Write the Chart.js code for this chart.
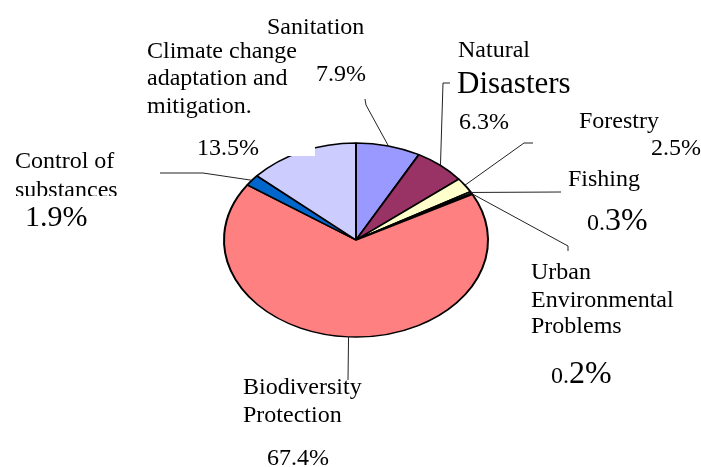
<!DOCTYPE html>
<html>
<head>
<meta charset="utf-8">
<script src="https://cdn.jsdelivr.net/npm/chart.js@4.4.1/dist/chart.umd.min.js"></script>
<style>
  html, body { margin: 0; padding: 0; background: #ffffff; }
  #wrap { width: 701px; height: 467px; position: relative; }
  canvas { display: block; }
</style>
</head>
<body>
<div id="wrap"><canvas id="pie" width="701" height="467"></canvas></div>
<script>
// Share of environmental spending by area (per cent), clockwise from the top
const categories = [
  ['Sanitation'],
  ['Natural', 'Disasters'],
  ['Forestry'],
  ['Fishing'],
  ['Urban', 'Environmental', 'Problems'],
  ['Biodiversity', 'Protection'],
  ['Control of', 'substances'],
  ['Climate change', 'adaptation and', 'mitigation.']
];
const shares = [7.9, 6.3, 2.5, 0.3, 0.2, 67.4, 1.9, 13.5];
const sliceColors = ['#9999FF', '#993366', '#FFFFCC', '#CCFFFF', '#660066', '#FF8080', '#0066CC', '#CCCCFF'];

const FONT = '"Liberation Serif", serif';
const BASE = 24;
const TILT = 0.735; // vertical squash of the pie

// Where each slice's label lines, percentage and leader line go
const labelLayout = [
  { lines: [[267, 34]], pct: { x: 316, y: 81 }, leader: [[366, 105], [365, 99]] },
  { lines: [[458, 57], [457, 93, 31]], pct: { x: 459, y: 129 }, leader: [[443, 83], [450, 83]] },
  { lines: [[579, 128]], pct: { x: 651, y: 155 }, leader: [[524, 143], [533, 143]] },
  { lines: [[568, 186]], pct: { x: 587, y: 230, split: 32 }, leader: [[561, 192]] },
  { lines: [[531, 279], [531, 307], [531, 333]], pct: { x: 551, y: 383, split: 32 }, leader: [[568, 246], [568, 251]] },
  { lines: [[243, 394], [243, 422]], pct: { x: 267, y: 465 }, leader: [[348, 380]] },
  { lines: [[15, 168], [15, 197]], clipBottom: 196, pct: { x: 25, y: 226, size: 30 }, leader: [[203, 173], [160, 173]] },
  { lines: [[147, 58], [147, 85], [147, 113]], pct: { x: 197, y: 155 }, mask: [185, 130, 315, 156], leader: null }
];

// Squash the pie vertically so it reads as a tilted disc
const tiltPlugin = {
  id: 'tilt',
  beforeDatasetsDraw(chart) {
    const arc = chart.getDatasetMeta(0).data[0];
    const ctx = chart.ctx;
    ctx.save();
    ctx.translate(arc.x, arc.y);
    ctx.scale(1, TILT);
    ctx.translate(-arc.x, -arc.y);
  },
  afterDatasetsDraw(chart) {
    chart.ctx.restore();
  }
};

// Category names, percentages and leader lines
const labelPlugin = {
  id: 'sliceLabels',
  afterDatasetsDraw(chart) {
    const ctx = chart.ctx;
    const arcs = chart.getDatasetMeta(0).data;
    ctx.save();
    ctx.textBaseline = 'alphabetic';
    ctx.textAlign = 'left';
    ctx.fillStyle = '#000000';
    arcs.forEach((arc, i) => {
      const lay = labelLayout[i];
      // leader line from the middle of the slice's rim
      if (lay.leader) {
        const mid = (arc.startAngle + arc.endAngle) / 2;
        const ex = arc.x + arc.outerRadius * Math.cos(mid);
        const ey = arc.y + arc.outerRadius * TILT * Math.sin(mid);
        ctx.beginPath();
        ctx.moveTo(ex, ey);
        lay.leader.forEach(p => ctx.lineTo(p[0], p[1]));
        ctx.strokeStyle = '#222222';
        ctx.lineWidth = 1;
        ctx.stroke();
      }
      if (lay.mask) {
        ctx.fillStyle = '#ffffff';
        ctx.fillRect(lay.mask[0], lay.mask[1], lay.mask[2] - lay.mask[0], lay.mask[3] - lay.mask[1]);
        ctx.fillStyle = '#000000';
      }
      // name lines
      ctx.save();
      if (lay.clipBottom) {
        ctx.beginPath();
        ctx.rect(0, 0, chart.width, lay.clipBottom);
        ctx.clip();
      }
      categories[i].forEach((txt, k) => {
        const [x, y, size] = lay.lines[k];
        ctx.font = (size || BASE) + 'px ' + FONT;
        ctx.fillText(txt, x, y);
      });
      ctx.restore();
      // percentage
      const pctText = shares[i].toFixed(1) + '%';
      const p = lay.pct;
      if (p.split) {
        const head = pctText.slice(0, 2);
        const tail = pctText.slice(2);
        ctx.font = BASE + 'px ' + FONT;
        ctx.fillText(head, p.x, p.y);
        const w = ctx.measureText(head).width;
        ctx.font = p.split + 'px ' + FONT;
        ctx.fillText(tail, p.x + w, p.y);
      } else {
        ctx.font = (p.size || BASE) + 'px ' + FONT;
        ctx.fillText(pctText, p.x, p.y);
      }
    });
    ctx.restore();
  }
};

function drawChart() {
  new Chart(document.getElementById('pie'), {
    type: 'pie',
    data: {
      labels: categories.map(l => l.join(' ')),
      datasets: [{
        data: shares,
        backgroundColor: sliceColors,
        borderColor: '#000000',
        borderWidth: 2,
        radius: 132
      }]
    },
    options: {
      responsive: false,
      devicePixelRatio: 1,
      animation: false,
      events: [],
      layout: { padding: { left: 224, right: 213, top: 108, bottom: 95 } },
      plugins: {
        legend: { display: false },
        tooltip: { enabled: false }
      }
    },
    plugins: [tiltPlugin, labelPlugin]
  });
}

Promise.all([
  document.fonts.load('24px "Liberation Serif"'),
  document.fonts.load('31px "Liberation Serif"')
]).then(drawChart, drawChart);
</script>
</body>
</html>
